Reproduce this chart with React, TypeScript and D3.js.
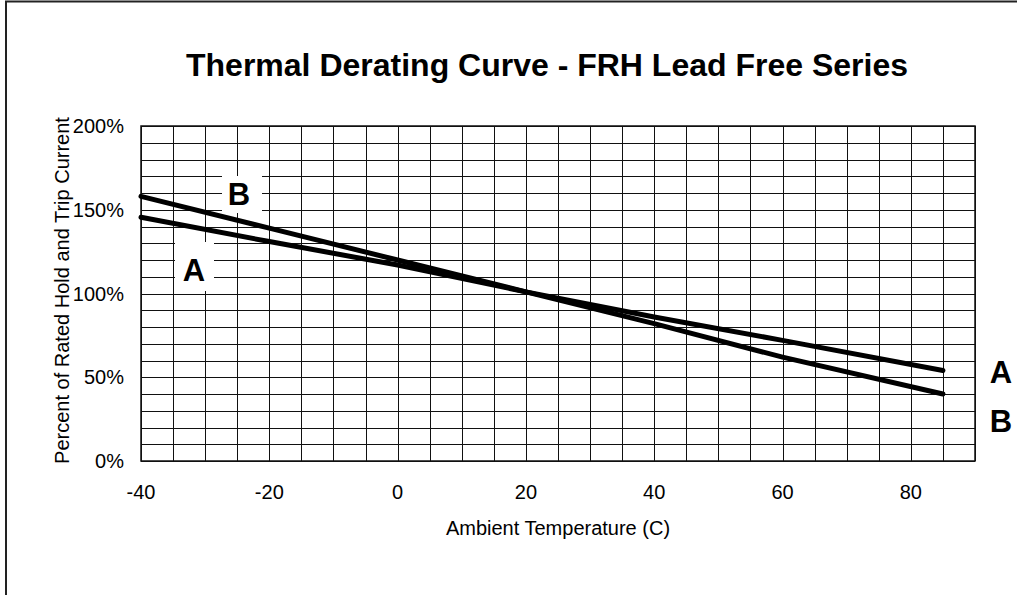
import React from 'react';
import * as d3 from 'd3';

const temps = [-40, -20, 0, 20, 40, 60, 85];
const seriesA = [145.5, 131, 117, 101, 86, 72, 54];
const seriesB = [158, 139, 120, 101, 82, 62, 40];
const xTicks = [-40, -20, 0, 20, 40, 60, 80];
const yTicks = [0, 50, 100, 150, 200];

const width = 1017;
const height = 595;
const font = 'Liberation Sans, Arial, sans-serif';

const App = () => {
    const marginLeft = 141;
    const marginRight = 975;
    const marginTop = 126;
    const marginBottom = 461;

    const x = d3.scaleLinear().domain([-40, 90]).range([marginLeft, marginRight]);
    const y = d3.scaleLinear().domain([0, 200]).range([marginBottom, marginTop]);

    const line = d3.line<number>()
        .x((d, i) => x(temps[i]))
        .y(d => y(d));

    const xGrid = d3.range(-40, 91, 5);
    const yGrid = d3.range(0, 201, 10);

    const last = temps.length - 1;

    return (
        <svg width={width} height={height} style={{ position: 'absolute', left: 0, top: 0, background: '#fff' }}>
            {/* outer frame */}
            <rect x={6} y={1.5} width={width + 20} height={height + 20} fill="none" stroke="#222" strokeWidth={2} />

            <text x={547} y={76} textAnchor="middle" fontFamily={font} fontWeight="bold" fontSize={32}>
                Thermal Derating Curve - FRH Lead Free Series
            </text>

            <g shapeRendering="crispEdges" stroke="#111" strokeWidth={1}>
                {xGrid.map(t => (
                    <line key={'x' + t} x1={Math.round(x(t)) + 0.5} x2={Math.round(x(t)) + 0.5} y1={y(0)} y2={y(200)} />
                ))}
                {yGrid.map(v => (
                    <line key={'y' + v} x1={x(-40)} x2={x(90)} y1={Math.round(y(v)) + 0.5} y2={Math.round(y(v)) + 0.5} />
                ))}
            </g>
            <rect x={x(-40)} y={y(200)} width={x(90) - x(-40)} height={y(0) - y(200)}
                fill="none" stroke="#111" strokeWidth={1.5} />

            {/* label boxes inside the plot */}
            <rect x={222} y={176} width={40} height={37} fill="#fff" />
            <rect x={175} y={242} width={39} height={49} fill="#fff" />

            <path d={line(seriesB) ?? ''} fill="none" stroke="#000" strokeWidth={5} strokeLinecap="round" />
            <path d={line(seriesA) ?? ''} fill="none" stroke="#000" strokeWidth={5} strokeLinecap="round" />

            <g fontFamily={font} fontWeight="bold" fontSize={31} textAnchor="middle">
                <text x={239} y={205}>B</text>
                <text x={194} y={281}>A</text>
                <text x={1001} y={y(seriesA[last]) + 12}>A</text>
                <text x={1001} y={432}>B</text>
            </g>

            <g fontFamily={font} fontSize={20}>
                {yTicks.map(v => (
                    <text key={v} x={124} y={y(v)} dy="0.35em" textAnchor="end">{v}%</text>
                ))}
                {xTicks.map(t => (
                    <text key={t} x={x(t)} y={499} textAnchor="middle">{t}</text>
                ))}
                <text x={(marginLeft + marginRight) / 2} y={535} textAnchor="middle">Ambient Temperature (C)</text>
                <text transform={`translate(69, ${(marginTop + marginBottom) / 2 - 3}) rotate(-90)`} textAnchor="middle">
                    Percent of Rated Hold and Trip Current
                </text>
            </g>
        </svg>
    );
};

export default App;
